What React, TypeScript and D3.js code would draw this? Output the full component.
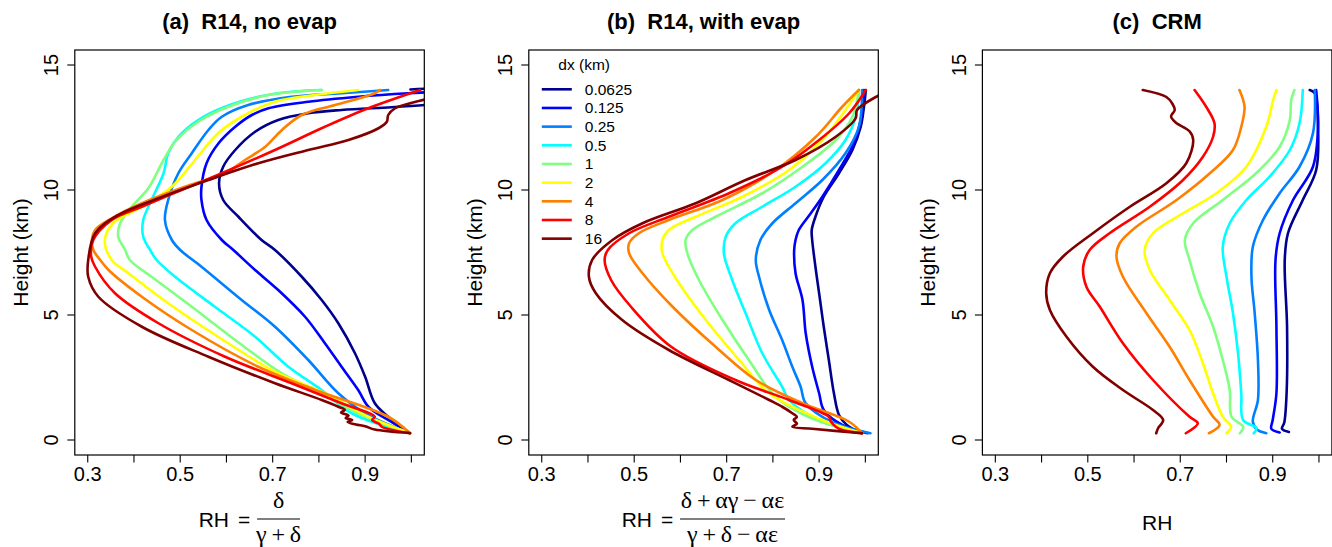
import React from 'react';
import * as d3 from 'd3';

type Pt = [number, number]; // [RH, height (km)]

const dxLabels = ['0.0625', '0.125', '0.25', '0.5', '1', '2', '4', '8', '16'];
const lineColors = ['#00008F', '#0000FF', '#0080FF', '#00FFFF', '#80FF80', '#FFFF00', '#FF8000', '#FF0000', '#800000'];
const xTicks = [0.3, 0.4, 0.5, 0.6, 0.7, 0.8, 0.9, 1.0];
const xTickLabels = [0.3, 0.5, 0.7, 0.9];
const yTicks = [0, 5, 10, 15];
const panelTitles = ['(a)  R14, no evap', '(b)  R14, with evap', '(c)  CRM'];

// (a) R14, no evap
const noEvap: Pt[][] = [
  [[0.997,0.27],[0.95,0.93],[0.921,1.47],[0.9,2.53],[0.878,3.47],[0.842,4.67],[0.806,5.6],[0.763,6.53],[0.705,7.6],[0.676,8.0],[0.626,8.93],[0.593,9.6],[0.584,10.27],[0.593,10.93],[0.619,11.6],[0.662,12.33],[0.712,12.8],[0.777,13.07],[0.849,13.2],[0.957,13.31],[1.03,13.4],[1.09,13.5],[1.08,13.95],[0.998,14.02]],
  [[0.997,0.27],[0.95,0.8],[0.907,1.33],[0.885,2.0],[0.849,2.93],[0.813,3.87],[0.77,4.93],[0.712,6.0],[0.662,6.8],[0.615,7.6],[0.59,8.0],[0.557,8.8],[0.546,9.6],[0.546,10.13],[0.557,11.07],[0.583,11.87],[0.619,12.53],[0.655,13.0],[0.691,13.27],[0.777,13.53],[0.885,13.73],[0.993,13.87],[1.05,13.92]],
  [[0.997,0.27],[0.9,1.07],[0.842,1.87],[0.777,3.2],[0.705,4.53],[0.633,5.6],[0.546,6.93],[0.5,7.6],[0.482,8.0],[0.467,8.8],[0.474,9.6],[0.496,10.67],[0.525,11.47],[0.561,12.4],[0.59,12.93],[0.647,13.4],[0.741,13.73],[0.849,13.87],[0.95,14.0]],
  [[0.997,0.27],[0.871,1.07],[0.806,2.0],[0.734,2.93],[0.662,4.13],[0.575,5.33],[0.489,6.53],[0.449,7.2],[0.435,7.6],[0.42,8.13],[0.42,8.8],[0.438,9.6],[0.464,10.67],[0.474,11.47],[0.496,12.13],[0.539,12.8],[0.597,13.33],[0.669,13.73],[0.741,13.93],[0.806,14.0]],
  [[0.997,0.27],[0.885,1.07],[0.806,1.87],[0.72,2.67],[0.619,4.0],[0.525,5.33],[0.438,6.53],[0.391,7.2],[0.381,7.6],[0.366,8.13],[0.37,8.67],[0.395,9.33],[0.431,10.07],[0.464,11.2],[0.489,11.93],[0.539,12.73],[0.604,13.33],[0.691,13.8],[0.806,14.0]],
  [[0.997,0.27],[0.907,0.93],[0.813,1.87],[0.705,2.73],[0.582,4.13],[0.474,5.47],[0.388,6.67],[0.352,7.2],[0.337,8.0],[0.355,8.67],[0.417,9.33],[0.482,10.13],[0.532,11.2],[0.582,12.27],[0.633,12.93],[0.705,13.53],[0.792,13.8],[0.885,14.0]],
  [[0.997,0.27],[0.95,0.93],[0.792,2.0],[0.669,2.93],[0.525,4.4],[0.417,5.73],[0.345,6.8],[0.327,7.2],[0.312,7.6],[0.309,8.0],[0.316,8.4],[0.352,8.87],[0.417,9.47],[0.51,10.13],[0.597,10.67],[0.64,11.2],[0.684,11.73],[0.72,12.4],[0.763,13.0],[0.835,13.4],[0.921,13.87],[0.932,14.0]],
  [[0.997,0.27],[0.936,0.53],[0.93,0.65],[0.915,0.8],[0.921,0.93],[0.849,1.47],[0.741,2.27],[0.597,3.33],[0.453,4.67],[0.359,5.87],[0.316,6.93],[0.307,7.4],[0.312,8.0],[0.352,8.8],[0.417,9.33],[0.503,10.0],[0.59,10.67],[0.705,11.6],[0.813,12.53],[0.907,13.27],[1.019,14.0]],
  [[0.997,0.28],[0.921,0.42],[0.9,0.55],[0.88,0.62],[0.862,0.72],[0.872,0.8],[0.858,0.88],[0.864,0.98],[0.848,1.1],[0.856,1.2],[0.842,1.33],[0.806,1.6],[0.705,2.27],[0.561,3.33],[0.417,4.53],[0.323,5.73],[0.301,6.53],[0.301,7.2],[0.316,8.27],[0.366,9.0],[0.453,9.67],[0.561,10.4],[0.669,11.07],[0.777,11.6],[0.864,12.0],[0.929,12.47],[0.947,12.73],[0.95,13.0],[0.965,13.27],[1.03,13.63],[1.06,13.8]],
];

// (b) R14, with evap
const withEvap: Pt[][] = [
  [[0.993,0.27],[0.96,0.6],[0.943,1.0],[0.932,1.87],[0.921,3.2],[0.91,4.53],[0.9,5.87],[0.892,6.93],[0.885,8.0],[0.884,8.4],[0.892,8.93],[0.91,9.73],[0.943,10.67],[0.972,11.6],[0.99,12.53],[0.997,13.33],[1.001,14.0]],
  [[1.005,0.27],[0.95,0.6],[0.91,1.2],[0.9,1.87],[0.885,2.93],[0.871,4.27],[0.864,5.6],[0.849,6.67],[0.846,7.6],[0.849,8.0],[0.856,8.4],[0.882,9.07],[0.907,9.73],[0.943,10.8],[0.975,11.87],[0.99,12.8],[0.997,14.0]],
  [[1.011,0.27],[0.93,0.7],[0.871,1.47],[0.86,2.13],[0.842,2.93],[0.82,4.0],[0.792,5.2],[0.77,6.53],[0.763,7.2],[0.773,8.0],[0.799,8.67],[0.849,9.47],[0.907,10.4],[0.957,11.47],[0.986,12.53],[0.993,14.0]],
  [[0.993,0.27],[0.9,0.8],[0.835,1.6],[0.82,2.13],[0.777,3.47],[0.741,5.07],[0.712,6.4],[0.694,7.47],[0.698,8.13],[0.719,8.67],[0.777,9.33],[0.849,10.13],[0.914,11.07],[0.957,12.0],[0.979,12.93],[0.986,14.0]],
  [[0.993,0.27],[0.88,0.9],[0.806,1.73],[0.748,3.2],[0.691,4.8],[0.64,6.4],[0.615,7.47],[0.611,8.0],[0.626,8.4],[0.676,8.93],[0.777,9.87],[0.864,10.93],[0.936,12.0],[0.972,12.93],[0.986,14.0]],
  [[0.993,0.27],[0.9,0.85],[0.792,1.87],[0.727,3.2],[0.655,4.8],[0.597,6.27],[0.561,7.47],[0.561,8.0],[0.575,8.4],[0.633,8.93],[0.734,9.73],[0.835,10.8],[0.907,12.0],[0.957,13.2],[0.986,14.0]],
  [[0.993,0.27],[0.965,0.73],[0.864,1.47],[0.763,2.4],[0.676,3.73],[0.583,5.33],[0.518,6.67],[0.489,7.47],[0.489,7.87],[0.51,8.27],[0.575,8.8],[0.691,9.6],[0.806,10.8],[0.893,12.13],[0.95,13.33],[0.986,14.0]],
  [[0.993,0.27],[0.95,0.4],[0.936,0.53],[0.925,0.75],[0.921,0.93],[0.835,1.6],[0.719,2.4],[0.58,3.73],[0.493,5.33],[0.45,6.4],[0.436,7.2],[0.443,7.6],[0.489,8.27],[0.575,8.93],[0.705,9.87],[0.82,10.93],[0.9,12.0],[0.965,13.07],[1.001,14.0]],
  [[0.993,0.27],[0.885,0.45],[0.842,0.53],[0.852,0.65],[0.845,0.8],[0.852,0.92],[0.842,1.07],[0.82,1.33],[0.792,1.6],[0.705,2.4],[0.575,3.6],[0.474,4.8],[0.417,5.87],[0.402,6.53],[0.409,7.2],[0.453,8.0],[0.518,8.67],[0.633,9.47],[0.741,10.4],[0.849,11.2],[0.936,12.13],[0.979,12.87],[0.982,13.2],[1.03,13.8],[1.05,14.0]],
];

// (c) CRM
const crm: Pt[][] = [
  [[0.935,0.32],[0.92,0.45],[0.925,0.7],[0.93,1.87],[0.931,4.53],[0.926,7.2],[0.933,8.27],[0.965,9.6],[0.994,10.8],[0.998,12.53],[0.991,13.87],[0.98,14.0]],
  [[0.915,0.3],[0.897,0.45],[0.9,0.8],[0.908,1.87],[0.908,4.53],[0.906,7.2],[0.915,8.27],[0.944,9.6],[0.987,10.93],[0.998,12.53],[0.994,14.0]],
  [[0.886,0.27],[0.866,0.42],[0.857,0.73],[0.868,1.6],[0.868,3.2],[0.861,5.07],[0.854,6.53],[0.857,7.73],[0.879,8.8],[0.915,9.87],[0.958,10.93],[0.987,12.27],[0.991,14.0]],
  [[0.859,0.27],[0.865,0.47],[0.836,0.8],[0.832,1.87],[0.825,3.47],[0.814,5.07],[0.8,6.53],[0.792,7.73],[0.807,8.67],[0.843,9.6],[0.893,10.53],[0.937,11.6],[0.958,12.67],[0.965,14.0]],
  [[0.829,0.27],[0.836,0.53],[0.811,0.93],[0.807,2.0],[0.792,3.2],[0.771,4.53],[0.742,5.87],[0.72,7.2],[0.71,8.0],[0.728,8.67],[0.792,9.6],[0.864,10.67],[0.915,11.73],[0.937,12.8],[0.94,13.6],[0.947,14.0]],
  [[0.8,0.27],[0.81,0.53],[0.792,0.93],[0.771,1.87],[0.749,3.07],[0.72,4.4],[0.677,5.6],[0.634,6.8],[0.623,7.6],[0.641,8.27],[0.706,9.07],[0.778,9.87],[0.843,10.93],[0.886,12.53],[0.901,13.6],[0.908,14.0]],
  [[0.762,0.27],[0.785,0.6],[0.771,0.93],[0.72,2.4],[0.677,3.73],[0.627,5.07],[0.576,6.53],[0.562,7.33],[0.569,7.87],[0.605,8.53],[0.692,9.6],[0.764,10.67],[0.814,11.6],[0.832,12.53],[0.839,13.33],[0.828,14.0]],
  [[0.712,0.27],[0.738,0.67],[0.72,0.93],[0.641,2.4],[0.576,3.87],[0.526,5.33],[0.497,6.13],[0.49,6.93],[0.504,7.6],[0.547,8.27],[0.634,9.33],[0.706,10.4],[0.749,11.33],[0.771,12.13],[0.774,12.67],[0.756,13.33],[0.731,14.0]],
  [[0.648,0.27],[0.652,0.47],[0.663,0.8],[0.641,1.2],[0.576,2.0],[0.511,2.93],[0.454,4.13],[0.418,5.2],[0.41,5.87],[0.418,6.67],[0.446,7.33],[0.511,8.27],[0.591,9.33],[0.67,10.27],[0.713,11.07],[0.728,12.0],[0.72,12.35],[0.69,12.7],[0.68,12.95],[0.688,13.2],[0.683,13.45],[0.67,13.72],[0.619,14.0]],
];

const panelData = [noEvap, withEvap, crm];

const W = 1332;
const H = 547;
const panelLefts = [74.8, 528.8, 982.4];
const boxW = 349.5;
const boxTop = 50;
const boxBottom = 455;
const sans = '"Liberation Sans", Arial, Helvetica, sans-serif';
const serif = '"Liberation Serif", "Times New Roman", serif';
const thin = '\u2009';

function Panel({ idx }: { idx: number }) {
  const left = panelLefts[idx];
  const right = left + boxW;
  const x = d3.scaleLinear().domain([0.272, 1.028]).range([left, right]);
  const y = d3.scaleLinear().domain([-0.6, 15.6]).range([boxBottom, boxTop]);
  const line = d3
    .line<Pt>()
    .x((d) => x(d[0]))
    .y((d) => y(d[1]))
    .curve(d3.curveCatmullRom.alpha(0.5));
  const cx = (left + right) / 2;
  const clipId = `clip-${idx}`;
  const series = panelData[idx];

  return (
    <g>
      <defs>
        <clipPath id={clipId}>
          <rect x={left} y={boxTop} width={boxW} height={boxBottom - boxTop} />
        </clipPath>
      </defs>
      <text x={cx} y={28.5} textAnchor="middle" fontFamily={sans} fontWeight="bold" fontSize={22} style={{ whiteSpace: 'pre' }}>
        {panelTitles[idx]}
      </text>
      <g clipPath={`url(#${clipId})`}>
        {series.map((s, i) => (
          <path key={i} d={line(s) || ''} fill="none" stroke={lineColors[i]} strokeWidth={2.6} strokeLinejoin="round" strokeLinecap="round" />
        ))}
      </g>
      <rect x={left} y={boxTop} width={boxW} height={boxBottom - boxTop} fill="none" stroke="#000" strokeWidth={1.2} />
      {xTicks.map((t) => (
        <line key={t} x1={x(t)} x2={x(t)} y1={boxBottom} y2={boxBottom + 7.5} stroke="#000" strokeWidth={1.1} />
      ))}
      {xTickLabels.map((t) => (
        <text key={t} x={x(t)} y={481} textAnchor="middle" fontFamily={sans} fontSize={20}>
          {d3.format('.1f')(t)}
        </text>
      ))}
      {yTicks.map((t) => (
        <g key={t}>
          <line x1={left - 7.5} x2={left} y1={y(t)} y2={y(t)} stroke="#000" strokeWidth={1.1} />
          <text transform={`translate(${left - 16.5},${y(t)}) rotate(-90)`} textAnchor="middle" fontFamily={sans} fontSize={20}>
            {t}
          </text>
        </g>
      ))}
      <text transform={`translate(${left - 47},${(boxTop + boxBottom) / 2}) rotate(-90)`} textAnchor="middle" fontFamily={sans} fontSize={21}>
        Height (km)
      </text>
      {idx === 0 && <Formula cx={cx} barW={43} num="δ" den={`γ${thin}+${thin}δ`} />}
      {idx === 1 && (
        <Formula cx={cx} barW={105} num={`δ${thin}+${thin}αγ${thin}−${thin}αε`} den={`γ${thin}+${thin}δ${thin}−${thin}αε`} />
      )}
      {idx === 2 && (
        <text x={cx} y={530} textAnchor="middle" fontFamily={sans} fontSize={21}>
          RH
        </text>
      )}
      {idx === 1 && <Legend left={left} />}
    </g>
  );
}

function Formula({ cx, barW, num, den }: { cx: number; barW: number; num: string; den: string }) {
  const lead = 58;
  const total = lead + barW;
  const startX = cx - total / 2;
  const barL = startX + lead;
  const barR = barL + barW;
  const barC = (barL + barR) / 2;
  return (
    <g>
      <text x={barL - 28} y={527} textAnchor="end" fontFamily={sans} fontSize={21}>
        RH
      </text>
      <text x={barL - 13} y={527} textAnchor="middle" fontFamily={sans} fontSize={21}>
        =
      </text>
      <line x1={barL} x2={barR} y1={519} y2={519} stroke="#000" strokeWidth={1.2} />
      <text x={barC} y={508} textAnchor="middle" fontFamily={serif} fontSize={24} style={{ whiteSpace: 'pre' }}>
        {num}
      </text>
      <text x={barC} y={542} textAnchor="middle" fontFamily={serif} fontSize={24} style={{ whiteSpace: 'pre' }}>
        {den}
      </text>
    </g>
  );
}

function Legend({ left }: { left: number }) {
  const x0 = left + 13;
  const y0 = 89.3;
  const step = 18.67;
  return (
    <g>
      <text x={left + 29.5} y={70} fontFamily={sans} fontSize={15.5}>
        dx (km)
      </text>
      {dxLabels.map((lab, i) => (
        <g key={lab}>
          <line x1={x0} x2={x0 + 30} y1={y0 + i * step} y2={y0 + i * step} stroke={lineColors[i]} strokeWidth={2.6} />
          <text x={left + 56} y={y0 + i * step + 5.5} fontFamily={sans} fontSize={15.5}>
            {lab}
          </text>
        </g>
      ))}
    </g>
  );
}

export default function App() {
  return (
    <svg width={W} height={H} viewBox={`0 0 ${W} ${H}`} style={{ position: 'absolute', left: 0, top: 0, background: '#fff' }}>
      <rect x={0} y={0} width={W} height={H} fill="#fff" />
      {[0, 1, 2].map((i) => (
        <Panel key={i} idx={i} />
      ))}
    </svg>
  );
}
